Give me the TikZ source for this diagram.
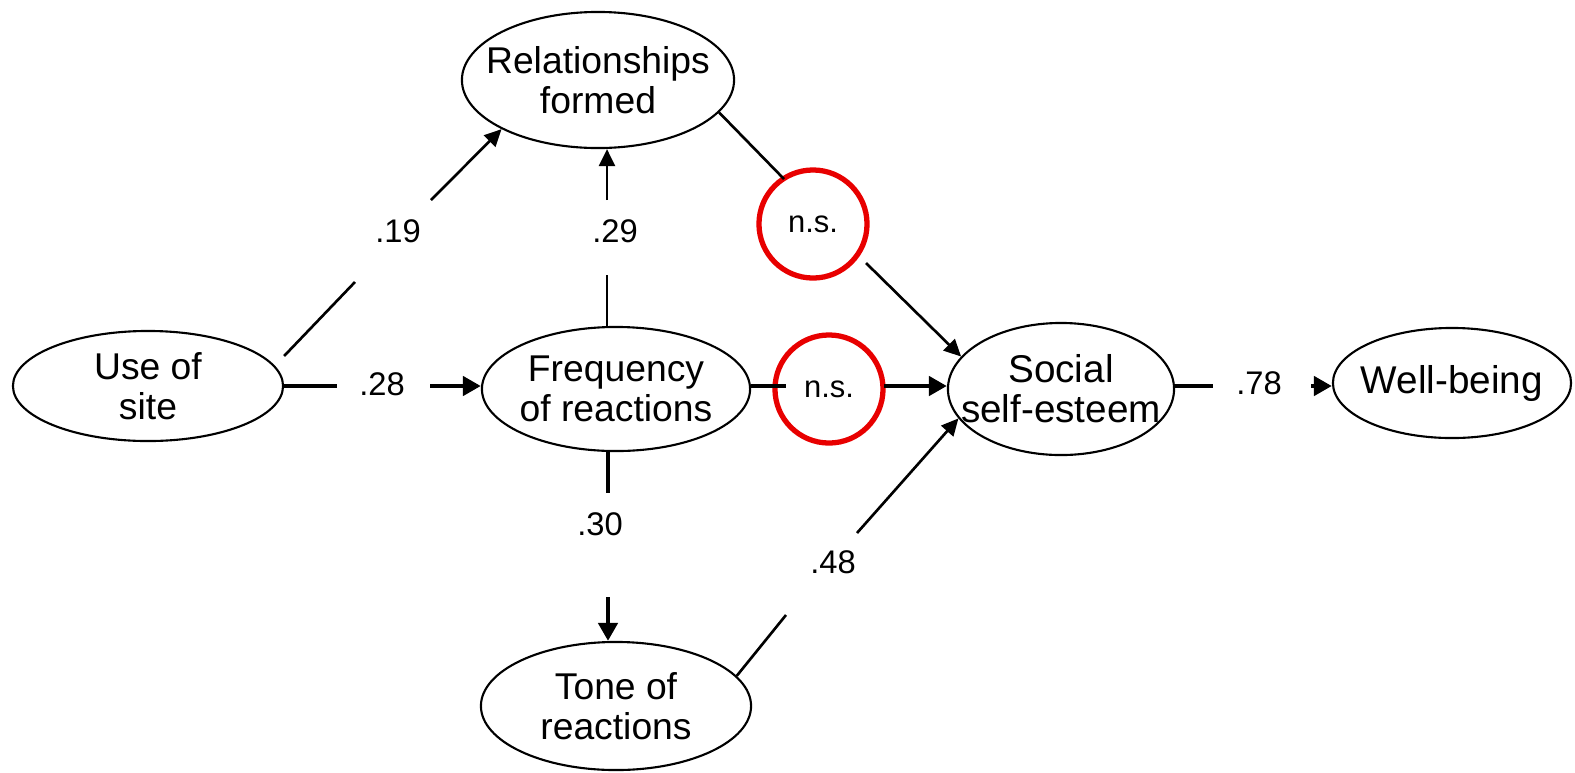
\documentclass[tikz,border=0pt]{standalone}
\usepackage{fontspec}
\setmainfont{Liberation Sans}
\usetikzlibrary{shapes.geometric,arrows.meta}
\definecolor{nsred}{RGB}{232,0,0}
\begin{document}
\begin{tikzpicture}[x=0.01cm,y=-0.01cm,
  var/.style={draw, ellipse, line width=0.6pt, inner sep=0pt},
  vtxt/.style={inner sep=0pt, align=center, font=\fontsize{10.6}{11.2}\selectfont},
  vtxtb/.style={inner sep=0pt, align=center, font=\fontsize{11}{11.4}\selectfont},
  lab/.style={inner sep=0pt, font=\fontsize{9.3}{10}\selectfont},
  nscirc/.style={draw=nsred, circle, line width=1.5pt, minimum size=1.08cm,
    inner sep=0pt, font=\fontsize{8.8}{10}\selectfont},
  ln/.style={line width=0.75pt},
  thk/.style={line width=1.3pt},
  arr/.style={-{Triangle[length=0.17cm,width=0.16cm]}},
  arrb/.style={-{Triangle[length=0.18cm,width=0.19cm]}}]
\useasboundingbox (0,0) rectangle (1575,772);
% ellipses
\node[var, minimum width=2.70cm, minimum height=1.10cm] (use) at (148,386) {};
\node[var, minimum width=2.72cm, minimum height=1.36cm] (rel) at (598,80) {};
\node[var, minimum width=2.68cm, minimum height=1.24cm] (freq) at (616,389) {};
\node[var, minimum width=2.70cm, minimum height=1.28cm] (tone) at (616,706) {};
\node[var, minimum width=2.26cm, minimum height=1.32cm] (soc) at (1061,389) {};
\node[var, minimum width=2.38cm, minimum height=1.10cm] (well) at (1452,383) {};
% texts
\node[vtxt] (usetxt) at (use) {Use of\\site};
\node[vtxt] (reltxt) at (rel) {Relationships\\formed};
\node[vtxt] (freqtxt) at (freq) {Frequency\\of reactions};
\node[vtxt] (tonetxt) at (tone) {Tone of\\reactions};
\node[vtxtb] (soctxt) at (soc) {Social\\self-esteem};
\node[vtxtb] (welltxt) at (well) {Well-being};
\node[nscirc] (ns1) at (813,224) {n.s.};
\node[nscirc] (ns2) at (829,389) {n.s.};
% labels
\node[lab] (l19) at (398,231) {.19};
\node[lab] (l29) at (615,231) {.29};
\node[lab] (l28) at (382,384) {.28};
\node[lab] (l30) at (600,524) {.30};
\node[lab] (l48) at (833,562) {.48};
\node[lab] (l78) at (1259,383) {.78};
% coordinates for broken connectors
\coordinate (a1) at (355,282);
\coordinate (a2) at (431,200);
\coordinate (b1) at (337,386);
\coordinate (b2) at (430,386);
\coordinate (c1) at (607,275);
\coordinate (c2) at (607,200);
\coordinate (d1) at (784,179);
\coordinate (d2) at (866,263);
\coordinate (e1) at (786,386);
\coordinate (e2) at (884,386);
\coordinate (f1) at (608,493);
\coordinate (f2) at (608,597);
\coordinate (g1) at (786,615);
\coordinate (g2) at (857,533);
\coordinate (h1) at (1213,386);
\coordinate (h2) at (1311,386);
% connectors
\draw[ln] ([yshift=0.3cm]use.east) -- (a1);
\draw[ln,arr] (a2) -- (rel.207);
\draw[thk] (b1 -| use.east) -- (b1);
\draw[thk,arrb] (b2) -- (b2 -| freq.west);
\draw[ln] (c1 |- freq.north) -- (c1);
\draw[ln,arr] (c2) -- (c2 |- rel.south);
\draw[ln] (rel.-15) -- (d1);
\draw[ln,arr] (d2) -- (soc.162);
\draw[thk] (e1 -| freq.east) -- (e1);
\draw[thk,arrb] (e2) -- (e2 -| soc.west);
\draw[thk] (f1 |- freq.south) -- (f1);
\draw[thk,arrb] (f2) -- (f2 |- tone.north);
\draw[ln] (tone.14) -- (g1);
\draw[ln,arr] (g2) -- (soc.196);
\draw[thk] (h1 -| soc.east) -- (h1);
\draw[thk,arrb] (h2) -- (h2 -| well.west);
\end{tikzpicture}
\end{document}
